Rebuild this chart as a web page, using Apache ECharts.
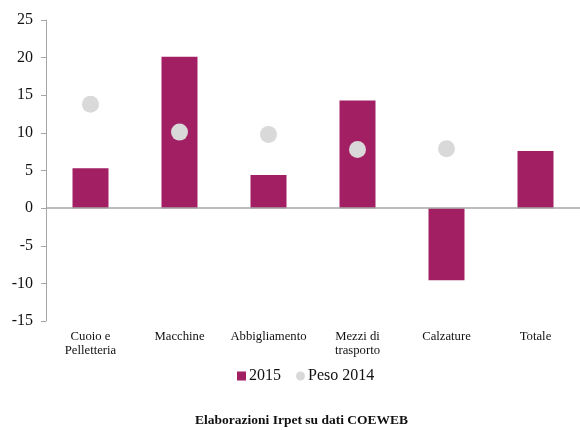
<!DOCTYPE html>
<html lang="it">
<head>
    <meta charset="UTF-8">
    <title>Export 2015</title>
    <script src="https://cdn.jsdelivr.net/npm/echarts@6/dist/echarts.min.js"></script>
    <style>
        html, body { margin: 0; padding: 0; background: #fff; }
        #main { width: 580px; height: 430px; }
    </style>
</head>
<body>
    <div id="main"></div>
    <script>
        var categories = ['Cuoio e\nPelletteria', 'Macchine', 'Abbigliamento', 'Mezzi di\ntrasporto', 'Calzature', 'Totale'];
        var var2015 = [5.3, 20.1, 4.4, 14.3, -9.6, 7.6];
        var peso2014 = [13.8, 10.1, 9.8, 7.8, 7.9, null];
        var yTicks = { min: -15, max: 25, interval: 5 };

        var serif = '"Liberation Serif", "DejaVu Serif", serif';
        var myChart = echarts.init(document.getElementById('main'));

        var option = {
            animation: false,
            textStyle: { fontFamily: serif },
            title: {
                text: 'Elaborazioni Irpet su dati COEWEB',
                left: 195,
                bottom: 2,
                padding: 0,
                textStyle: { fontFamily: serif, fontSize: 13.5, fontWeight: 'bold', color: '#111' }
            },
            legend: {
                bottom: 41,
                left: 232,
                itemWidth: 9,
                itemHeight: 9,
                itemGap: 15,
                textStyle: { fontFamily: serif, fontSize: 16, color: '#111', padding: [0, 0, 0, -2] },
                data: [
                    { name: '2015', icon: 'rect' },
                    { name: 'Peso 2014', icon: 'circle' }
                ]
            },
            grid: { left: 46, right: 0, top: 20, bottom: 109 },
            xAxis: {
                type: 'category',
                data: categories,
                axisLine: { show: false, onZero: false },
                axisTick: { show: false },
                axisLabel: {
                    margin: 9,
                    fontFamily: serif,
                    fontSize: 12.7,
                    lineHeight: 14,
                    color: '#111',
                    interval: 0
                }
            },
            yAxis: {
                type: 'value',
                min: yTicks.min,
                max: yTicks.max,
                interval: yTicks.interval,
                axisLine: { show: true, lineStyle: { color: '#a6a6a6', width: 1 } },
                axisTick: { show: true, length: 5, lineStyle: { color: '#a6a6a6' } },
                splitLine: { show: false },
                axisLabel: { margin: 13, fontFamily: serif, fontSize: 16, color: '#111' }
            },
            series: [
                {
                    name: '2015',
                    type: 'bar',
                    data: var2015,
                    barWidth: 36,
                    itemStyle: { color: '#a11f62' },
                    markLine: {
                        silent: true,
                        symbol: 'none',
                        label: { show: false },
                        lineStyle: { color: '#a6a6a6', width: 1.5, type: 'solid' },
                        data: [{ yAxis: 0 }]
                    }
                },
                {
                    name: 'Peso 2014',
                    type: 'scatter',
                    data: peso2014,
                    symbolSize: 17,
                    itemStyle: { color: '#d9d9d9', opacity: 1 },
                    z: 3
                }
            ]
        };
        myChart.setOption(option);
    </script>
</body>
</html>
